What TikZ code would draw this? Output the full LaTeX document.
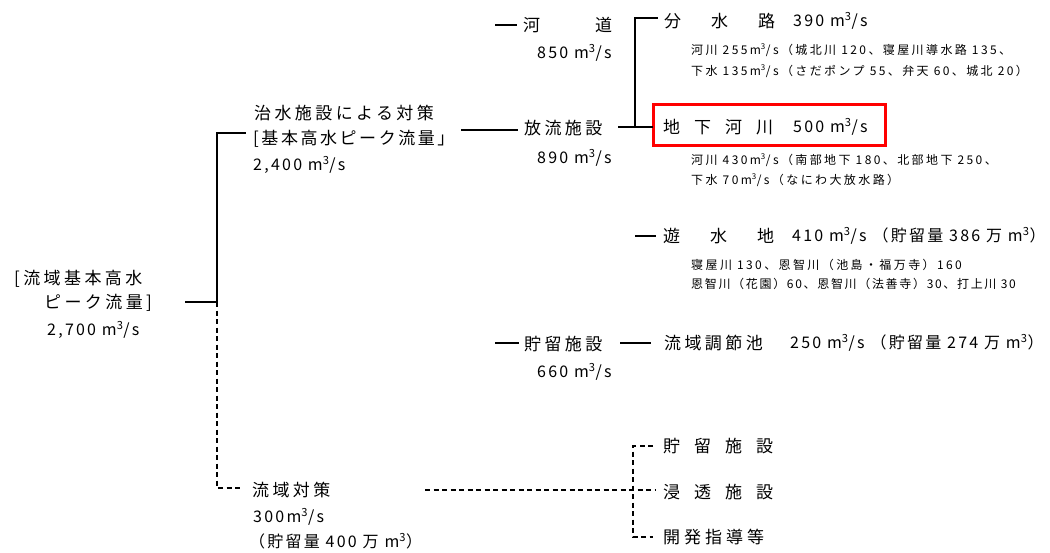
\documentclass[tikz,border=0pt]{standalone}
\usepackage{fontspec}
\setmainfont{Noto Sans CJK JP}
\newfontfamily\jpm[LetterSpace=20]{Noto Sans CJK JP}
\newfontfamily\jpt[LetterSpace=15]{Noto Sans CJK JP}
\newfontfamily\jpn[LetterSpace=14]{Noto Sans CJK JP}
\newfontfamily\jps[LetterSpace=20]{Noto Sans CJK JP}
\newfontfamily\jpq[LetterSpace=14]{Noto Sans CJK JP}
\newcommand\hsp[1]{\hspace*{#1pt}}
\newcommand\mcube{m\textsuperscript{3}/s}
\tikzset{
  lbl/.style={anchor=west, inner sep=0pt, font=\jpm\fontsize{17}{21}\selectfont},
  num/.style={anchor=west, inner sep=0pt, font=\jpn\fontsize{16}{21}\selectfont},
  sml/.style={anchor=west, inner sep=0pt, font=\jps\fontsize{12}{15}\selectfont},
  smq/.style={anchor=west, inner sep=0pt, font=\jpq\fontsize{12}{15}\selectfont},
  ln/.style={line width=1.3pt},
  dl/.style={line width=1.3pt, dash pattern=on 5pt off 3.5pt},
  hl/.style={draw=red, line width=3pt}
}
\begin{document}
\begin{tikzpicture}[x=1pt,y=-1pt]
\useasboundingbox (0,0) rectangle (1050,552);
% root
\node[lbl] (r1) at (14,279) {[流域基本高水};
\node[lbl] (r2) at (44,303) {ピーク流量]};
\node[num] (r3) at (47,330) {2,700 \mcube};
% flood control facilities
\node[lbl] (t1) at (254,113) {治水施設による対策};
\node[lbl, font=\jpt\fontsize{17}{21}\selectfont] (t2) at (253,139) {[基本高水ピーク流量」};
\node[num] (t3) at (253,165) {2,400 \mcube};
% river channel
\node[lbl] (k1) at (523,25) {河\hsp{55}道};
\node[num] (k2) at (537,53) {850 \mcube};
% discharge facilities
\node[lbl] (h1) at (524,128) {放流施設};
\node[num] (h2) at (537,158) {890 \mcube};
% diversion channel
\node[lbl] (b1) at (664,21) {分\hsp{30}水\hsp{30}路};
\node[num] (b2) at (793,21) {390 \mcube};
\node[sml] (b3) at (691,50) {河川 255m\textsuperscript{3}/s（城北川 120、寝屋川導水路 135、};
\node[sml] (b4) at (691,71) {下水 135m\textsuperscript{3}/s（さだポンプ 55、弁天 60、城北 20）};
% underground river
\node[lbl] (c1) at (663,127) {地\hsp{14}下\hsp{14}河\hsp{14}川};
\node[num] (c2) at (793,127) {500 \mcube};
\draw[hl] (653,104) rectangle (885,145);
\node[sml] (c3) at (691,160) {河川 430m\textsuperscript{3}/s（南部地下 180、北部地下 250、};
\node[sml] (c4) at (691,180) {下水 70m\textsuperscript{3}/s（なにわ大放水路）};
% retarding basin
\node[lbl] (y1) at (663,236) {遊\hsp{30}水\hsp{30}地};
\node[num] (y2) at (792,236) {410 \mcube\hsp{6}（貯留量 386 万 m\textsuperscript{3}）};
\node[sml] (y3) at (691,265) {寝屋川 130、恩智川（池島・福万寺）160};
\node[smq] (y4) at (691,284) {恩智川（花園）60、恩智川（法善寺）30、打上川 30};
% storage facilities
\node[lbl] (s1) at (524,344) {貯留施設};
\node[num] (s2) at (537,372) {660 \mcube};
\node[lbl] (s3) at (664,343) {流域調節池};
\node[num] (s4) at (790,343) {250 \mcube\hsp{6}（貯留量 274 万 m\textsuperscript{3}）};
% basin measures
\node[lbl] (u1) at (252,490) {流域対策};
\node[num] (u2) at (253,517) {300m\textsuperscript{3}/s};
\node[num] (u3) at (249,541) {（貯留量 400 万 m\textsuperscript{3}）};
\node[lbl] (v1) at (663,446) {貯\hsp{14}留\hsp{14}施\hsp{14}設};
\node[lbl] (v2) at (663,492) {浸\hsp{14}透\hsp{14}施\hsp{14}設};
\node[lbl] (v3) at (663,537) {開\hsp{4}発\hsp{4}指\hsp{4}導\hsp{4}等};
% coordinates
\coordinate (j0) at (217,302);
\coordinate (j0a) at (185,302);
\coordinate (j1) at (217,133);
\coordinate (j1b) at (246,133);
\coordinate (j2a) at (461,130);
\coordinate (j2b) at (518,130);
\coordinate (kd) at (495,25);
\coordinate (kde) at (517,25);
\coordinate (j3a) at (618,127);
\coordinate (j3) at (635,127);
\coordinate (j3t) at (635,18);
\coordinate (j3te) at (658,18);
\coordinate (ya) at (635,236);
\coordinate (yb) at (656,236);
\coordinate (sa) at (495,343);
\coordinate (sb) at (519,343);
\coordinate (sc) at (620,343);
\coordinate (sd) at (651,343);
\coordinate (j4) at (217,488);
\coordinate (j4b) at (241,488);
\coordinate (j5a) at (425,490);
\coordinate (j5) at (633,490);
\coordinate (j5t) at (633,446);
\coordinate (j5b) at (633,537);
% solid connectors
\draw[ln] (j0a) -- (j0) -- (j1) -- (j1b);
\draw[ln] (j2a) -- (j2b);
\draw[ln] (kd) -- (kde);
\draw[ln] (j3a) -- (653,127);
\draw[ln] (j3) -- (j3t) -- (j3te);
\draw[ln] (ya) -- (yb);
\draw[ln] (sa) -- (sb);
\draw[ln] (sc) -- (sd);
% dashed connectors
\draw[dl] (j0) -- (j4) -- (j4b);
\draw[dl] (j5a) -- (655,490);
\draw[dl] (653,446) -- (j5t) -- (j5b) -- (653,537);
\end{tikzpicture}
\end{document}
